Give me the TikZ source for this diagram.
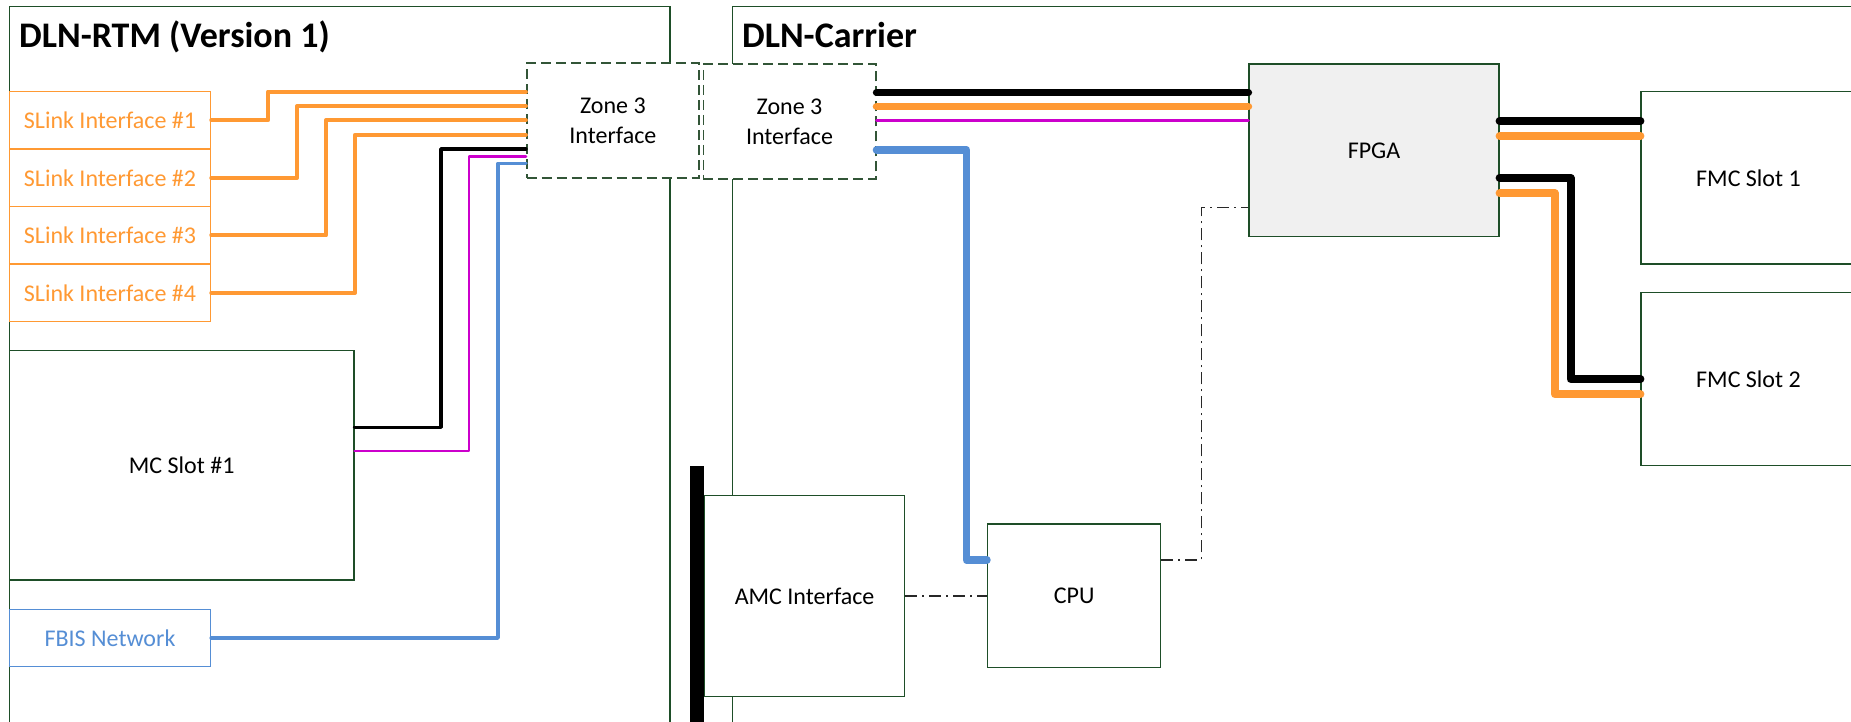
\documentclass[tikz,border=0pt]{standalone}
\usepackage{fontspec}
\setmainfont{Carlito}
\definecolor{org}{RGB}{255,153,51}
\definecolor{blu}{RGB}{85,142,213}
\definecolor{mag}{RGB}{204,0,204}
\definecolor{grn}{RGB}{30,78,40}
\definecolor{fgray}{RGB}{240,240,240}
\definecolor{dgray}{RGB}{40,40,40}
\begin{document}
\begin{tikzpicture}[x=0.5pt,y=-0.5pt,
  box/.style={draw=grn, line width=0.6pt, fill=white, inner sep=0pt, align=center, font=\fontsize{12}{15}\selectfont},
  zonebox/.style={box, draw={rgb,255:red,50;green,85;blue,55}, dash pattern=on 5pt off 2.5pt, line width=0.8pt},
  slinkbox/.style={box, draw=org, text=org, minimum width=100.65pt, minimum height=28.65pt},
  title/.style={anchor=base west, inner sep=0pt, font=\fontsize{18}{22}\selectfont\bfseries},
  wire/.style={line cap=round, line join=round},
  dashdot/.style={dgray, line width=0.7pt, dash pattern=on 6pt off 2.5pt on 1pt off 2.5pt}]
\useasboundingbox (0,0) rectangle (1851,722);
\clip (0,0) rectangle (1851,722);
% containers
\draw[grn, line width=0.6pt] (9.4,740) -- (9.4,6.7) -- (670,6.7) -- (670,740);
\draw[grn, line width=0.6pt] (732.3,740) -- (732.3,6.7) -- (1870,6.7);
\node[title] (trtm) at (18.75,47.7) {DLN-RTM (Version 1)};
\node[title] (tcar) at (741.7,48) {DLN-Carrier};
% black backplane bar
\fill[black] (689.5,466) rectangle (704.4,740);
% nodes
\node[slinkbox] (s1) at (110,120.35) {SLink Interface \#1};
\node[slinkbox] (s2) at (110,177.85) {SLink Interface \#2};
\node[slinkbox] (s3) at (110,235.35) {SLink Interface \#3};
\node[slinkbox] (s4) at (110,292.85) {SLink Interface \#4};
\node[box, minimum width=172.3pt, minimum height=114.65pt] (mc) at (181.7,465.35) {MC Slot \#1};
\node[box, draw=blu, text=blu, minimum width=100.65pt, minimum height=28.7pt] (fbis) at (110,638) {FBIS Network};
\node[zonebox, minimum width=86.15pt, minimum height=57.2pt] (zl) at (612.85,120.5) {Zone 3\\Interface};
\node[zonebox, minimum width=86.2pt, minimum height=57.35pt] (zr) at (789.5,121.65) {Zone 3\\Interface};
\node[box, fill=fgray, minimum width=125pt, minimum height=86.35pt] (fpga) at (1374,150.35) {FPGA};
\node[box, minimum width=107.5pt, minimum height=86.15pt] (fmc1) at (1748.5,177.85) {FMC Slot 1};
\node[box, minimum width=107.5pt, minimum height=86.3pt] (fmc2) at (1748.5,379) {FMC Slot 2};
\node[box, minimum width=100.2pt, minimum height=100.7pt] (amc) at (804.6,596) {AMC Interface};
\node[box, minimum width=86.6pt, minimum height=71.85pt] (cpu) at (1074.1,595.85) {CPU};
% RTM wires
\draw[wire, org, line width=2pt] (s1.east) -| (268,91.7) -- (zl.west |- 0,91.7);
\draw[wire, org, line width=2pt] (s2.east) -| (297,106) -- (zl.west |- 0,106);
\draw[wire, org, line width=2pt] (s3.east) -| (326,120.3) -- (zl.west |- 0,120.3);
\draw[wire, org, line width=2pt] (s4.east) -| (355,134.7) -- (zl.west |- 0,134.7);
\draw[wire, black, line width=1.8pt] (mc.east |- 0,427.3) -| (441,149) -- (zl.west |- 0,149);
\draw[wire, mag, line width=1.4pt] (mc.east |- 0,451) -| (469,156.7) -- (zl.west |- 0,156.7);
\draw[wire, blu, line width=1.8pt] (fbis.east) -| (498,163.3) -- (zl.west |- 0,163.3);
% carrier wires
\draw[wire, black, line width=3.7pt] (zr.east |- 0,92.7) -- (fpga.west |- 0,92.7);
\draw[wire, org, line width=3.8pt] (zr.east |- 0,106.7) -- (fpga.west |- 0,106.7);
\draw[wire, mag, line width=1.5pt] (zr.east |- 0,121) -- (fpga.west |- 0,121);
\draw[wire, blu, line width=3.8pt] (zr.east |- 0,150) -| (966.5,560) -- (cpu.west |- 0,560);
\draw[wire, black, line width=4pt] (fpga.east |- 0,121) -- (fmc1.west |- 0,121);
\draw[wire, org, line width=4pt] (fpga.east |- 0,136) -- (fmc1.west |- 0,136);
\draw[wire, black, line width=4pt] (fpga.east |- 0,177.7) -| (1570.5,379) -- (fmc2.west |- 0,379);
\draw[wire, org, line width=4pt] (fpga.east |- 0,193.3) -| (1554.8,394.3) -- (fmc2.west |- 0,394.3);
% control links
\draw[dashdot] (amc.east) -- (cpu.west |- amc.east);
\draw[dashdot] (cpu.east |- 0,560) -| (1201.7,207.7) -- (fpga.west |- 0,207.7);
\end{tikzpicture}
\end{document}
